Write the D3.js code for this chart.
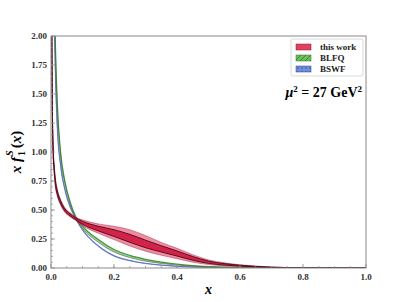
<!DOCTYPE html>
<html>
<head>
<meta charset="utf-8">
<script src="https://cdn.jsdelivr.net/npm/d3@7"></script>
<style>
  body { margin: 0; background: #fff; }
  svg text { font-family: "Liberation Serif", "DejaVu Serif", serif; }
</style>
</head>
<body>
<script>
    'use strict';

    // sample points along x (denser near x=0 where curves are steep)
    var xs = [0.002, 0.004, 0.007, 0.01, 0.013, 0.02, 0.03, 0.044, 0.06, 0.078, 0.1, 0.15, 0.2, 0.25, 0.3, 0.35, 0.4, 0.45, 0.5, 0.55, 0.6, 0.7, 0.8, 0.9, 1.0];

    // this work: central value, outer band, inner band
    var redMid  = [2.3, 1.45, 1.0, 0.86, 0.76, 0.65, 0.57, 0.5, 0.46, 0.425, 0.39, 0.34, 0.30, 0.255, 0.205, 0.165, 0.125, 0.083, 0.05, 0.032, 0.02, 0.006, 0.001, 0, 0];
    var redHi   = [2.4, 1.52, 1.05, 0.9, 0.8, 0.68, 0.595, 0.52, 0.478, 0.44, 0.415, 0.38, 0.36, 0.33, 0.28, 0.22, 0.17, 0.115, 0.07, 0.045, 0.028, 0.009, 0.002, 0, 0];
    var redLo   = [2.2, 1.38, 0.95, 0.82, 0.72, 0.62, 0.545, 0.48, 0.442, 0.41, 0.365, 0.3, 0.245, 0.19, 0.145, 0.11, 0.08, 0.05, 0.03, 0.018, 0.012, 0.003, 0.0005, 0, 0];
    var redInHi = [2.35, 1.48, 1.02, 0.88, 0.78, 0.665, 0.582, 0.51, 0.469, 0.433, 0.402, 0.36, 0.33, 0.29, 0.24, 0.192, 0.147, 0.099, 0.06, 0.038, 0.024, 0.0075, 0.0015, 0, 0];
    var redInLo = [2.25, 1.42, 0.98, 0.84, 0.74, 0.635, 0.558, 0.49, 0.451, 0.417, 0.377, 0.32, 0.272, 0.222, 0.175, 0.138, 0.103, 0.067, 0.04, 0.025, 0.016, 0.0045, 0.0008, 0, 0];

    // BLFQ
    var blfqHi = [9.2, 5.3, 3.35, 2.54, 2.05, 1.42, 1.01, 0.75, 0.577, 0.446, 0.362, 0.246, 0.16, 0.109, 0.075, 0.05, 0.034, 0.021, 0.013, 0.0075, 0.0043, 0.0013, 0.0002, 0, 0];
    var blfqLo = [8.8, 5.1, 3.25, 2.46, 1.99, 1.38, 0.98, 0.73, 0.56, 0.432, 0.342, 0.222, 0.138, 0.09, 0.059, 0.039, 0.025, 0.015, 0.009, 0.005, 0.003, 0.0008, 0.0001, 0, 0];

    // BSWF
    var bswfHi = [8.1, 4.7, 2.95, 2.28, 1.83, 1.24, 0.915, 0.69, 0.543, 0.436, 0.335, 0.194, 0.108, 0.066, 0.041, 0.026, 0.0155, 0.0093, 0.0052, 0.0026, 0.0013, 0.0002, 0, 0, 0];
    var bswfLo = [7.9, 4.5, 2.85, 2.22, 1.77, 1.2, 0.885, 0.67, 0.527, 0.424, 0.325, 0.186, 0.102, 0.062, 0.038, 0.024, 0.0135, 0.0078, 0.0042, 0.002, 0.0009, 0.0001, 0, 0, 0];

    var xTicks = [0, 0.2, 0.4, 0.6, 0.8, 1.0];
    var yTicks = [0, 0.25, 0.5, 0.75, 1.0, 1.25, 1.5, 1.75, 2.0];
    var legendNames = ["this work", "BLFQ", "BSWF"];

    var width = 407, height = 302,
        margin = { top: 36, right: 41, bottom: 34, left: 51 },
        plotW = width - margin.left - margin.right,
        plotH = height - margin.top - margin.bottom;

    var svg = d3.select("body").append("svg")
        .attr("width", width)
        .attr("height", height);

    var defs = svg.append("defs");
    defs.append("clipPath").attr("id", "clip")
        .append("rect").attr("width", plotW).attr("height", plotH);

    var hatch = defs.append("pattern").attr("id", "hatch")
        .attr("patternUnits", "userSpaceOnUse").attr("width", 5).attr("height", 5);
    hatch.append("rect").attr("width", 5).attr("height", 5).attr("fill", "#6cbf5e");
    hatch.append("path").attr("d", "M0,5 L5,0").attr("stroke", "#2f7a2a").attr("stroke-width", 0.8);

    var dots = defs.append("pattern").attr("id", "dots")
        .attr("patternUnits", "userSpaceOnUse").attr("width", 4).attr("height", 4);
    dots.append("rect").attr("width", 4).attr("height", 4).attr("fill", "#6f8fdc");
    dots.append("circle").attr("cx", 2).attr("cy", 2).attr("r", 0.7).attr("fill", "#2d4a9c");

    var g = svg.append("g")
        .attr("transform", "translate(" + margin.left + "," + margin.top + ")");

    var x = d3.scaleLinear().domain([0, 1]).range([0, plotW]);
    var y = d3.scaleLinear().domain([0, 2]).range([plotH, 0]);

    var area = function(lo, hi) {
        return d3.area()
            .x(function(d, i) { return x(xs[i]); })
            .y0(function(d, i) { return y(lo[i]); })
            .y1(function(d, i) { return y(hi[i]); })
            .curve(d3.curveMonotoneX)(xs);
    };
    var line = function(vals) {
        return d3.line()
            .x(function(d, i) { return x(xs[i]); })
            .y(function(d, i) { return y(vals[i]); })
            .curve(d3.curveMonotoneX)(xs);
    };

    var plot = g.append("g").attr("clip-path", "url(#clip)");

    // BSWF band
    plot.append("path").attr("d", area(bswfLo, bswfHi))
        .attr("fill", "#5b7fd6").attr("fill-opacity", 0.8);
    [bswfLo, bswfHi].forEach(function(v) {
        plot.append("path").attr("d", line(v)).attr("fill", "none")
            .attr("stroke", "#4a67b8").attr("stroke-width", 0.7);
    });

    // BLFQ band
    plot.append("path").attr("d", area(blfqLo, blfqHi))
        .attr("fill", "#4ea845").attr("fill-opacity", 0.55);
    plot.append("path").attr("d", line(blfqHi)).attr("fill", "none")
        .attr("stroke", "#3c9a35").attr("stroke-width", 1.2);
    plot.append("path").attr("d", line(blfqLo)).attr("fill", "none")
        .attr("stroke", "#555").attr("stroke-width", 0.6);

    // this work
    plot.append("path").attr("d", area(redLo, redHi))
        .attr("fill", "#dc2f55").attr("fill-opacity", 0.55);
    plot.append("path").attr("d", area(redInLo, redInHi))
        .attr("fill", "#d0103a").attr("fill-opacity", 0.85);
    [redLo, redHi].forEach(function(v) {
        plot.append("path").attr("d", line(v)).attr("fill", "none")
            .attr("stroke", "#b0304c").attr("stroke-width", 0.5);
    });
    [redInLo, redInHi].forEach(function(v) {
        plot.append("path").attr("d", line(v)).attr("fill", "none")
            .attr("stroke", "#4a0818").attr("stroke-width", 0.9);
    });

    // frame
    g.append("rect").attr("width", plotW).attr("height", plotH)
        .attr("fill", "none").attr("stroke", "#8a8a8a").attr("stroke-width", 1);

    // ticks (inward)
    var xAxis = g.append("g").attr("transform", "translate(0," + plotH + ")");
    xAxis.selectAll(".minor").data(d3.range(0.05, 1, 0.05)).enter().append("line")
        .attr("x1", function(d) { return x(d); }).attr("x2", function(d) { return x(d); })
        .attr("y1", 0).attr("y2", -2).attr("stroke", "#8a8a8a").attr("stroke-width", 0.7);
    xAxis.selectAll(".major").data(xTicks).enter().append("line")
        .attr("x1", function(d) { return x(d); }).attr("x2", function(d) { return x(d); })
        .attr("y1", 0).attr("y2", -4).attr("stroke", "#8a8a8a").attr("stroke-width", 0.8);
    xAxis.selectAll("text").data(xTicks).enter().append("text")
        .attr("x", function(d) { return x(d); })
        .attr("y", 12)
        .style("text-anchor", "middle")
        .style("font-size", "9px").style("font-weight", "bold").style("fill", "#333")
        .text(function(d) { return d3.format(".1f")(d); });

    var yAxis = g.append("g");
    yAxis.selectAll(".minor").data(d3.range(0.05, 2, 0.05)).enter().append("line")
        .attr("y1", function(d) { return y(d); }).attr("y2", function(d) { return y(d); })
        .attr("x1", 0).attr("x2", 2).attr("stroke", "#8a8a8a").attr("stroke-width", 0.7);
    yAxis.selectAll(".major").data(yTicks).enter().append("line")
        .attr("y1", function(d) { return y(d); }).attr("y2", function(d) { return y(d); })
        .attr("x1", 0).attr("x2", 4).attr("stroke", "#8a8a8a").attr("stroke-width", 0.8);
    yAxis.selectAll("text").data(yTicks).enter().append("text")
        .attr("x", -4)
        .attr("y", function(d) { return y(d) + 3; })
        .style("text-anchor", "end")
        .style("font-size", "9px").style("font-weight", "bold").style("fill", "#333")
        .text(function(d) { return d3.format(".2f")(d); });

    // axis labels
    svg.append("text")
        .attr("x", margin.left + plotW / 2).attr("y", 294)
        .style("text-anchor", "middle").style("font-size", "14px")
        .style("font-style", "italic").style("font-weight", "bold")
        .text("x");

    var yl = svg.append("text")
        .attr("transform", "translate(21," + (margin.top + plotH / 2) + ") rotate(-90)")
        .style("text-anchor", "middle").style("font-size", "15px")
        .style("font-weight", "bold");
    yl.append("tspan").style("font-style", "italic").text("x f");
    yl.append("tspan").attr("dx", 1).attr("dy", 4).style("font-size", "10px").text("1");
    yl.append("tspan").attr("dx", -5).attr("dy", -12).style("font-size", "10px").style("font-style", "italic").text("S");
    yl.append("tspan").attr("dx", 2).attr("dy", 8).text("(");
    yl.append("tspan").style("font-style", "italic").text("x");
    yl.append("tspan").text(")");

    // scale label
    var mu = svg.append("text")
        .attr("x", 362).attr("y", 97)
        .style("text-anchor", "end").style("font-size", "14px").style("font-weight", "bold");
    mu.append("tspan").style("font-style", "italic").text("μ");
    mu.append("tspan").attr("dy", -5).style("font-size", "9px").text("2");
    mu.append("tspan").attr("dy", 5).text(" = 27 GeV");
    mu.append("tspan").attr("dy", -5).style("font-size", "9px").text("2");

    // legend
    var legend = svg.append("g").attr("transform", "translate(291,39)");
    legend.append("rect").attr("width", 72).attr("height", 37).attr("rx", 2)
        .attr("fill", "#fff").attr("stroke", "#cfcfcf").attr("stroke-width", 0.8);
    var fills = ["#e0405e", "url(#hatch)", "url(#dots)"];
    var edges = ["#8a1a30", "#2f7a2a", "#33498a"];
    var rows = legend.selectAll(".row").data(legendNames).enter().append("g")
        .attr("transform", function(d, i) { return "translate(5," + (5 + i * 11) + ")"; });
    rows.append("rect").attr("width", 15).attr("height", 6)
        .attr("fill", function(d, i) { return fills[i]; })
        .attr("stroke", function(d, i) { return edges[i]; }).attr("stroke-width", 0.5);
    rows.append("text").attr("x", 24).attr("y", 6)
        .style("font-size", "9px").style("font-weight", "bold").style("fill", "#222")
        .text(function(d) { return d; });
</script>
</body>
</html>
